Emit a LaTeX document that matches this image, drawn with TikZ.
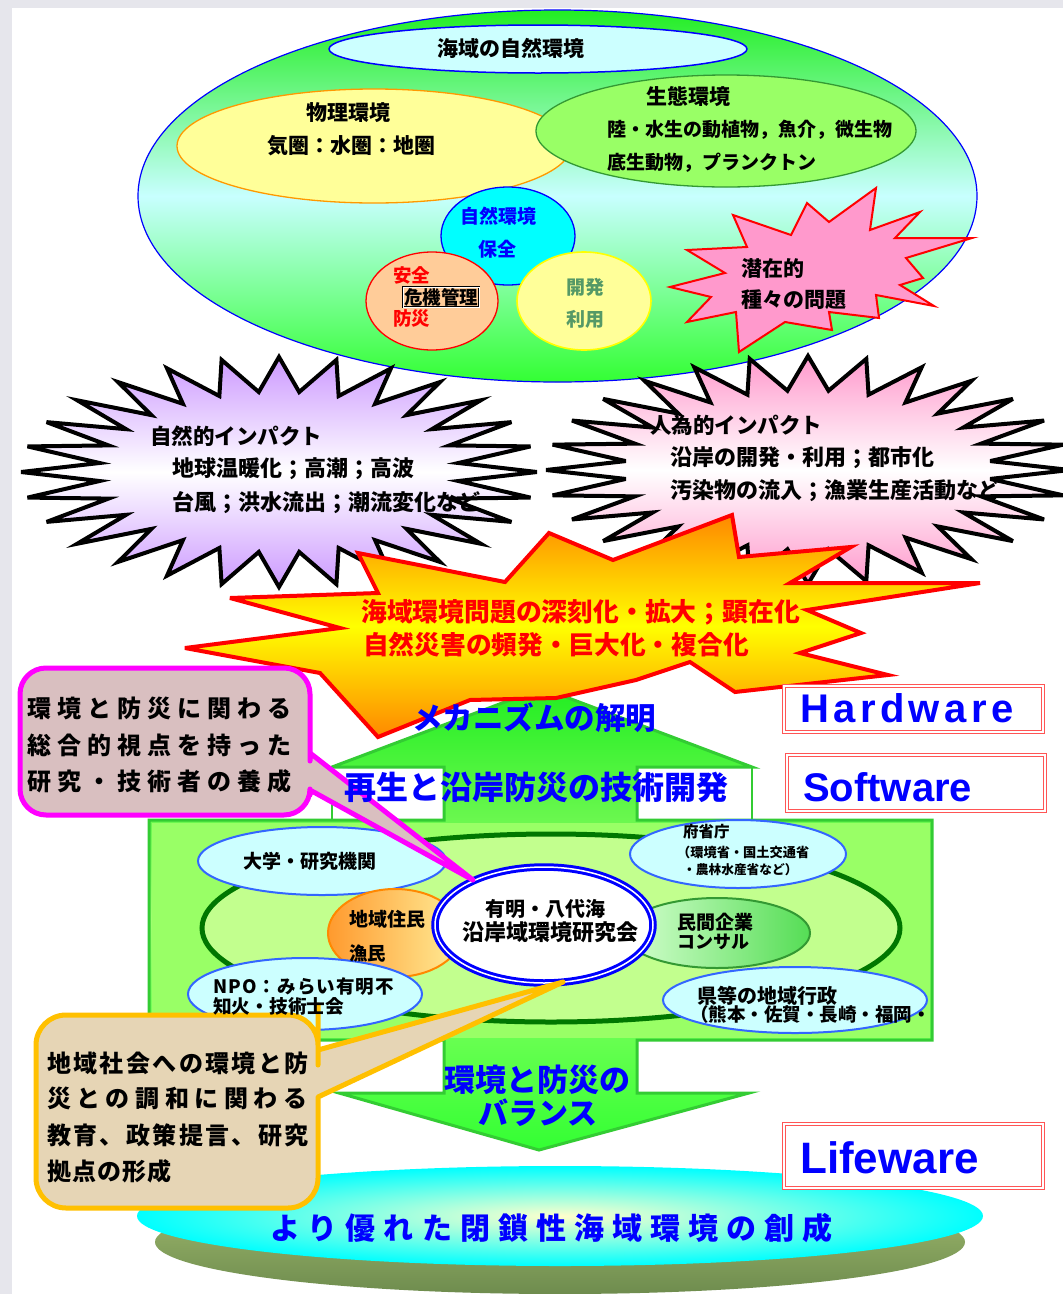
\documentclass[tikz,border=0pt]{standalone}
\usepackage{fontspec}
\setmainfont{Noto Sans CJK JP}
\newfontfamily\latf{Liberation Sans}
\newcommand\setfs[1]{\fontsize{#1}{#1}\selectfont}
\definecolor{bigGa}{HTML}{22EE22}
\definecolor{bigMid}{HTML}{C8FFFF}
\definecolor{bigGb}{HTML}{33FF33}
\definecolor{lcyan}{HTML}{CCFFFF}
\definecolor{pcyan}{HTML}{00FFFF}
\definecolor{pyel}{HTML}{FFFF00}
\definecolor{porange}{HTML}{FF8800}
\definecolor{pmag}{HTML}{FF00FF}
\definecolor{pred}{HTML}{FF0000}
\definecolor{pblue}{HTML}{0000FF}
\definecolor{lyel}{HTML}{FFFF99}
\definecolor{yelB}{HTML}{FF9900}
\definecolor{ecoG}{HTML}{99FF66}
\definecolor{ecoB}{HTML}{339933}
\definecolor{orgF}{HTML}{FFCC99}
\definecolor{pinkF}{HTML}{FF99CC}
\definecolor{purpF}{HTML}{CC99FF}
\definecolor{arrB}{HTML}{33CC33}
\definecolor{arrTop}{HTML}{22EE22}
\definecolor{arrMid}{HTML}{A0FF70}
\definecolor{devG}{HTML}{559966}
\definecolor{dkG}{HTML}{007700}
\definecolor{subB}{HTML}{3366FF}
\definecolor{boxR}{HTML}{FF5555}
\definecolor{magF}{HTML}{D9BFC0}
\definecolor{begF}{HTML}{E6D5B5}
\definecolor{calO}{HTML}{FFC000}
\definecolor{oliveT}{HTML}{A3BC70}
\definecolor{oliveB}{HTML}{6E8C4E}
\definecolor{bgGrey}{HTML}{E6E6EC}
\definecolor{inEll}{HTML}{C2FF8E}
\definecolor{locL}{HTML}{FF9A2E}
\definecolor{locR}{HTML}{FFEE99}
\definecolor{entL}{HTML}{D6FFD0}
\definecolor{entR}{HTML}{55DD55}
\definecolor{paleY}{HTML}{FFFFCC}
\begin{document}
\begin{tikzpicture}[x=1pt,y=-1pt,
  jt/.style={inner sep=0pt, anchor=west, font=\bfseries\setfs{#1}},
  jc/.style={inner sep=0pt, anchor=center, font=\bfseries\setfs{#1}},
  subell/.style={draw=subB, line width=2pt, fill=lcyan},
  wbox/.style={draw=boxR, double=white, double distance=1.4pt, line width=0.9pt, fill=white},
  latin/.style={inner sep=0pt, anchor=base west, text=pblue, font=\latf\bfseries\setfs{#1}}
]
\useasboundingbox (0,0) rectangle (1063,1294);
% background
\fill[bgGrey] (0,0) rectangle (1063,1294);
\fill[white] (12,8) rectangle (1063,1294);

% ===== top big ellipse =====
\path[draw=pblue, line width=1.2pt, top color=bigGa, bottom color=bigGb, middle color=bigMid]
  (557.5,196) ellipse [x radius=419.5, y radius=186];
\path[draw=pblue, line width=1.5pt, fill=lcyan] (538,49) ellipse [x radius=209, y radius=24];
\path[draw=yelB, line width=1.3pt, fill=lyel] (374,146) ellipse [x radius=197, y radius=57];
\path[draw=ecoB, line width=1.3pt, fill=ecoG] (726,131) ellipse [x radius=190, y radius=56];
\path[draw=pblue, line width=1.3pt, fill=pcyan] (508,236) ellipse [x radius=67, y radius=49];
\path[draw=pred, line width=1.3pt, fill=orgF] (432,301) ellipse [x radius=66, y radius=49];
\path[draw=pyel, line width=1.6pt, fill=lyel] (584,301) ellipse [x radius=67, y radius=49];
% small pink burst
\path[draw=pred, line width=2pt, fill=pinkF, line join=miter]
 (733,215) -- (791,235) -- (807,203) -- (829,222) -- (876,188) -- (870,230) -- (920,212) -- (895,238)
 -- (972,238) -- (906,258) -- (923,278) -- (900,285) -- (934,306) -- (876,295) -- (879,318) -- (829,312)
 -- (832,330) -- (785,322) -- (739,352) -- (736,312) -- (687,322) -- (711,297) -- (670,287) -- (725,273)
 -- (687,250) -- (747,247) -- cycle;

% ===== impact bursts =====
\path[draw=black, line width=4pt, line join=miter, miter limit=6, top color=purpF, bottom color=purpF, middle color=white]
  (537,472) \foreach \i in {1,...,55} { -- ({279+(1-0.3*mod(\i,2))*258*cos(\i*6.4285714)},{472+(1-0.3*mod(\i,2))*115*sin(\i*6.4285714)}) } -- cycle;
\path[draw=black, line width=4pt, line join=miter, miter limit=6, top color=pinkF, bottom color=pinkF, middle color=white]
  (1070,470) \foreach \i in {1,...,55} { -- ({808+(1-0.3*mod(\i,2))*262*cos(\i*6.4285714)},{470+(1-0.3*mod(\i,2))*114*sin(\i*6.4285714)}) } -- cycle;

% ===== double arrow with body =====
\draw[arrB, line width=1.5pt, fill=white] (332,767) rectangle (752,820);
\path[draw=arrB, line width=3pt, line join=miter, top color=arrTop, bottom color=bigGb, middle color=arrMid]
  (542,688) -- (752,767) -- (637,767) -- (637,820) -- (932,820) -- (932,1040) -- (637,1040) -- (637,1093)
  -- (749,1093) -- (539,1150) -- (339,1093) -- (444,1093) -- (444,1040) -- (149,1040) -- (149,820)
  -- (444,820) -- (444,767) -- (332,767) -- cycle;
\fill[ecoG] (151.5,822.5) rectangle (929.5,1037.5);
\path[draw=dkG, line width=5pt, fill=inEll] (551,928) ellipse [x radius=349, y radius=94];

% sub ellipses
\path[subell] (322,861) ellipse [x radius=124, y radius=34];
\path[subell] (738,854) ellipse [x radius=108, y radius=34];
\path[draw=porange, line width=2pt, left color=locL, right color=locR] (395,933) ellipse [x radius=67, y radius=44];
\path[draw=ecoB, line width=2pt, left color=entL, right color=entR] (717,933) ellipse [x radius=93, y radius=35];
\path[subell] (305,994) ellipse [x radius=117, y radius=36];
\path[subell] (795,1000) ellipse [x radius=132, y radius=33];
\path[draw=pblue, double=white, double distance=1.5pt, line width=3pt, fill=white] (544,925) ellipse [x radius=109, y radius=58];

% ===== central yellow burst =====
\path[draw=pred, line width=4pt, line join=miter, miter limit=6, top color=porange, bottom color=porange, middle color=pyel]
 (185,648) -- (340,628) -- (230,598) -- (378,593) -- (358,553) -- (505,582) -- (549,533) -- (613,560)
 -- (732,515) -- (739,557) -- (851,547) -- (790,583) -- (980,583) -- (807,610) -- (861,633) -- (800,653)
 -- (888,675) -- (735,692) -- (690,662) -- (636,680) -- (556,698) -- (470,700) -- (378,737) -- (320,673) -- cycle;

% ===== bottom disk =====
\path[top color=oliveT, bottom color=oliveB] (560,1242) ellipse [x radius=405, y radius=52];
\path[inner color=paleY, outer color=pcyan] (560,1216) ellipse [x radius=423, y radius=50];

% ===== callouts =====
\path[draw=pmag, line width=5pt, fill=magF, line join=round]
  (20,740) [rounded corners=26pt] -- (20,668) -- (310,668) -- (310,735) [sharp corners] -- (310,753) -- (473,880)
  -- (310,790) -- (310,795) [rounded corners=26pt] -- (310,815) -- (20,815) -- cycle;
\path[draw=calO, line width=5pt, fill=begF, line join=round]
  (36,1110) [rounded corners=30pt] -- (36,1015) -- (318,1015) -- (318,1035) [sharp corners] -- (318,1050) -- (563,982)
  -- (318,1097) -- (318,1110) [rounded corners=30pt] -- (318,1208) -- (36,1208) -- cycle;

% ===== ware boxes =====
\path[wbox] (784,686) rectangle (1043,732);
\path[wbox] (787,755) rectangle (1045,811);
\path[wbox] (784,1124) rectangle (1043,1188);
\node[latin=40] (hw) at (800,722) {\addfontfeatures{LetterSpace=11}Hardware};
\node[latin=40] (sw) at (803,801) {Software};
\node[latin=44] (lw) at (800,1173) {Lifeware};

% ===== texts =====
\node[jt=21] (t1) at (437,48) {海域の自然環境};
\node[jt=21] (t2) at (306,113) {物理環境};
\node[jt=21] (t3) at (267,146) {気圏：水圏：地圏};
\node[jt=21] (t4) at (646,97) {生態環境};
\node[jt=19] (t5) at (607,130) {陸・水生の動植物，魚介，微生物};
\node[jt=19] (t6) at (607,163) {底生動物，プランクトン};
\node[jt=19, text=pblue] (t7) at (460,216) {自然環境};
\node[jt=19, text=pblue] (t8) at (478,249) {保全};
\node[jt=18.5, text=pred] (t9) at (393,275) {安全};
\node[jt=18.5, draw, double, double distance=0.8pt, line width=0.5pt, inner sep=1pt] (t10) at (403,297) {危機管理};
\node[jt=18.5, text=pred] (t11) at (393,319) {防災};
\node[jt=19, text=devG] (t12) at (566,287) {開発};
\node[jt=19, text=devG] (t13) at (566,319) {利用};
\node[jt=21] (t14) at (741,268) {潜在的};
\node[jt=21] (t15) at (741,300) {種々の問題};

\node[jt=21.5] (t16) at (150,436) {自然的インパクト};
\node[jt=22] (t17) at (172,469) {地球温暖化；高潮；高波};
\node[jt=22] (t18) at (172,503) {台風；洪水流出；潮流変化など};
\node[jt=21.5] (t19) at (650,425) {人為的インパクト};
\node[jt=22] (t20) at (670,458) {沿岸の開発・利用；都市化};
\node[jt=22] (t21) at (670,491) {汚染物の流入；漁業生産活動など};

\node[jt=25.8, text=pred] (t22) at (361,612) {海域環境問題の深刻化・拡大；顕在化};
\node[jt=25.7, text=pred] (t23) at (363,645) {自然災害の頻発・巨大化・複合化};

\node[jt=30.5, text=pblue] (t24) at (412,718) {メカニズムの解明};
\node[jt=32, text=pblue] (t25) at (344,787) {再生と沿岸防災の技術開発};

\node[jt=19] (t26) at (243,861) {大学・研究機関};
\node[jt=15.5] (t27) at (683,832) {府省庁};
\node[jt=13.2] (t28) at (677,852) {（環境省・国土交通省};
\node[jt=12.7] (t29) at (683,870) {・農林水産省など）};
\node[jt=19] (t30) at (349,919) {地域住民};
\node[jt=18.5] (t31) at (349,953) {漁民};
\node[jc=20] (t32) at (545,909) {有明・八代海};
\node[jc=22] (t33) at (550,932) {沿岸域環境研究会};
\node[jt=19] (t34) at (677,922) {民間企業};
\node[jt=18] (t35) at (677,942) {コンサル};
\node[jt=18.5] (t36) at (213,987) {\addfontfeatures{LetterSpace=6}NPO：みらい有明不};
\node[jt=18.7] (t37) at (213,1006) {知火・技術士会};
\node[jt=20] (t38) at (697,996) {県等の地域行政};
\node[jt=18.5] (t39) at (690,1014) {（熊本・佐賀・長崎・福岡・};

\node[jt=31, text=pblue] (t40) at (444,1080) {環境と防災の};
\node[jt=30, text=pblue] (t41) at (478,1113) {バランス};
\node[jt=30, text=pblue] (t42) at (270,1228) {\addfontfeatures{LetterSpace=27}より優れた閉鎖性海域環境の創成};

\node[jt=24] (c1) at (27,708) {\addfontfeatures{LetterSpace=25}環境と防災に関わる};
\node[jt=24] (c2) at (27,745) {\addfontfeatures{LetterSpace=25}総合的視点を持った};
\node[jt=24] (c3) at (27,781) {\addfontfeatures{LetterSpace=25}研究・技術者の養成};

\node[jt=24] (d1) at (47,1063) {\addfontfeatures{LetterSpace=10}地域社会への環境と防};
\node[jt=24] (d2) at (47,1098) {\addfontfeatures{LetterSpace=23}災との調和に関わる};
\node[jt=24] (d3) at (47,1135) {\addfontfeatures{LetterSpace=10}教育、政策提言、研究};
\node[jt=24] (d4) at (47,1171) {\addfontfeatures{LetterSpace=5}拠点の形成};
\end{tikzpicture}
\end{document}
